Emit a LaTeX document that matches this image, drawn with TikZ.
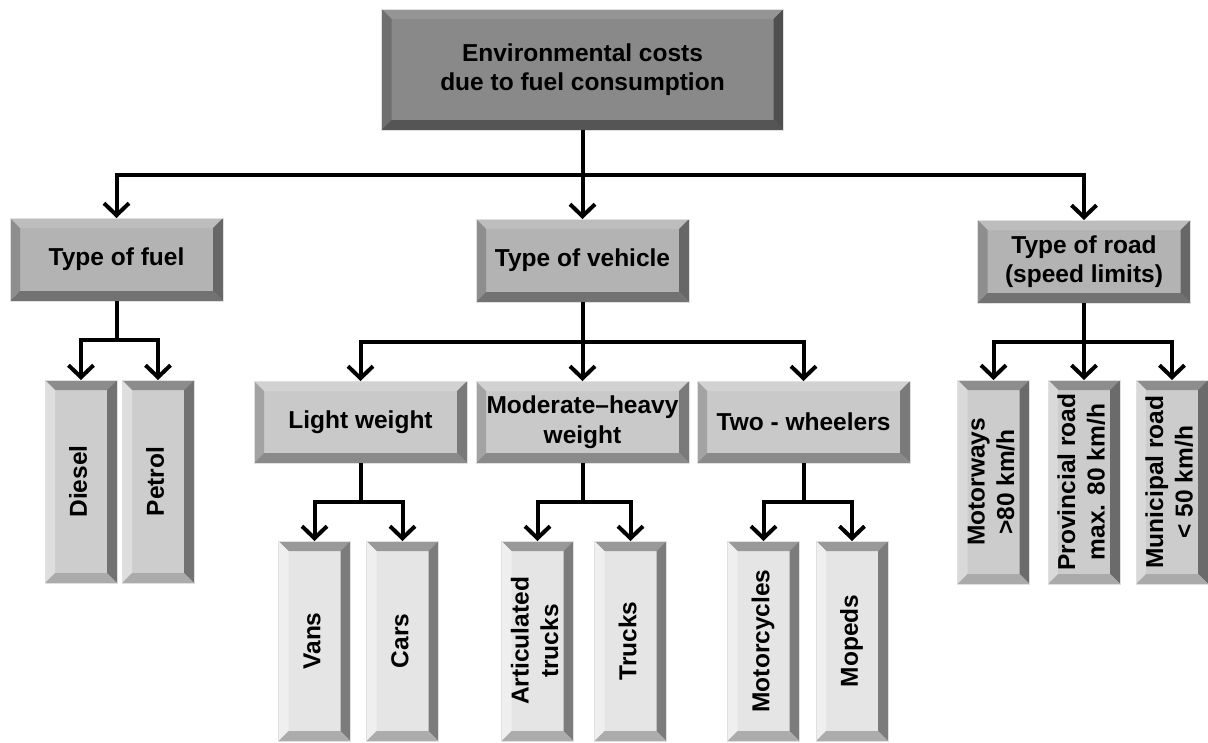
\documentclass[tikz,border=0pt]{standalone}
\usepackage{fontspec}
\setmainfont{Liberation Sans}
\usetikzlibrary{arrows.meta}
\definecolor{tF}{HTML}{898989}\definecolor{tT}{HTML}{959595}\definecolor{tL}{HTML}{6F6F6F}\definecolor{tR}{HTML}{4F4F4F}\definecolor{tB}{HTML}{555555}
\definecolor{aF}{HTML}{B3B3B3}\definecolor{aT}{HTML}{BDBDBD}\definecolor{aL}{HTML}{8E8E8E}\definecolor{aR}{HTML}{676767}\definecolor{aB}{HTML}{727272}
\definecolor{bF}{HTML}{C9C9C9}\definecolor{bT}{HTML}{D2D2D2}\definecolor{bL}{HTML}{A3A3A3}\definecolor{bR}{HTML}{7A7A7A}\definecolor{bB}{HTML}{8A8A8A}
\definecolor{cF}{HTML}{CDCDCD}\definecolor{cT}{HTML}{8C8C8C}\definecolor{cL}{HTML}{DEDEDE}\definecolor{cR}{HTML}{727272}\definecolor{cB}{HTML}{ABABAB}
\definecolor{dF}{HTML}{E5E5E5}\definecolor{dT}{HTML}{999999}\definecolor{dL}{HTML}{EFEFEF}\definecolor{dR}{HTML}{7C7C7C}\definecolor{dB}{HTML}{ACACAC}
\definecolor{eF}{HTML}{CCCCCC}\definecolor{eT}{HTML}{8D8D8D}\definecolor{eL}{HTML}{D9D9D9}\definecolor{eR}{HTML}{6B6B6B}\definecolor{eB}{HTML}{AAAAAA}
\newcommand\vtext[1]{\rotatebox{90}{\begin{tabular}{@{}c@{}}#1\end{tabular}}}
\tikzset{
  bev/.style n args={5}{path picture={
    \fill[#2] (path picture bounding box.north west) -- (path picture bounding box.north east)
      -- ([xshift=-#1pt,yshift=-#1pt]path picture bounding box.north east)
      -- ([xshift=#1pt,yshift=-#1pt]path picture bounding box.north west) -- cycle;
    \fill[#3] (path picture bounding box.north west) -- ([xshift=#1pt,yshift=-#1pt]path picture bounding box.north west)
      -- ([xshift=#1pt,yshift=#1pt]path picture bounding box.south west) -- (path picture bounding box.south west) -- cycle;
    \fill[#4] (path picture bounding box.north east) -- ([xshift=-#1pt,yshift=-#1pt]path picture bounding box.north east)
      -- ([xshift=-#1pt,yshift=#1pt]path picture bounding box.south east) -- (path picture bounding box.south east) -- cycle;
    \fill[#5] (path picture bounding box.south west) -- ([xshift=#1pt,yshift=#1pt]path picture bounding box.south west)
      -- ([xshift=-#1pt,yshift=#1pt]path picture bounding box.south east) -- (path picture bounding box.south east) -- cycle;
  }},
  box/.style={rectangle, inner sep=0pt, outer sep=0pt, draw=black!12, line width=0.8pt, align=center,
    font=\bfseries\fontsize{24.5}{29.5}\selectfont},
  topbox/.style={box, fill=tF, minimum width=402pt, minimum height=121pt, bev={10}{tT}{tL}{tR}{tB}},
  lvla/.style={box, fill=aF, minimum width=213pt, minimum height=83pt, bev={10}{aT}{aL}{aR}{aB}},
  lvlb/.style={box, fill=bF, minimum width=213pt, minimum height=82pt, bev={10}{bT}{bL}{bR}{bB}},
  leafc/.style={box, fill=cF, minimum width=72pt, minimum height=203pt, bev={10}{cT}{cL}{cR}{cB}},
  leafd/.style={box, fill=dF, minimum width=72pt, minimum height=200pt, bev={10}{dT}{dL}{dR}{dB}},
  leafe/.style={box, fill=eF, minimum width=72pt, minimum height=204pt, bev={10}{eT}{eL}{eR}{eB}},
  conn/.style={line width=4pt},
  arr/.style={line width=4pt, -{Straight Barb[length=12pt,width=25pt]}},
}
\begin{document}
\begin{tikzpicture}[x=1pt,y=-1pt]
\useasboundingbox (0,0) rectangle (1208,742);
% nodes
\node[topbox] (top) at (582.5,69.5) {Environmental costs\\due to fuel consumption};
\node[lvla] (fuel) at (116.5,259.5) {Type of fuel};
\node[lvla] (vehicle) at (582.5,260.5) {Type of vehicle};
\node[lvla] (road) at (1084,261.5) {Type of road\\(speed limits)};
\node[lvlb] (light) at (360.5,422) {Light weight};
\node[lvlb] (moderate) at (582.5,422) {Moderate--heavy\\weight};
\node[lvlb] (two) at (803.5,422) {Two - wheelers};
\node[leafc] (diesel) at (81,481.5) {\vtext{Diesel}};
\node[leafc] (petrol) at (158,481.5) {\vtext{Petrol}};
\node[leafd] (vans) at (314.5,641) {\vtext{Vans}};
\node[leafd] (cars) at (402.5,641) {\vtext{Cars}};
\node[leafd] (artic) at (537.5,641) {\vtext{Articulated\\trucks}};
\node[leafd] (trucks) at (630.5,641) {\vtext{Trucks}};
\node[leafd] (motorcycles) at (763.5,641) {\vtext{Motorcycles}};
\node[leafd] (mopeds) at (852,641) {\vtext{Mopeds}};
\node[leafe] (motorways) at (993.5,482) {\vtext{Motorways\\>80 km/h}};
\node[leafe] (provincial) at (1084,482) {\vtext{Provincial road\\max. 80 km/h}};
\node[leafe] (municipal) at (1172,482) {\vtext{Municipal road\\< 50 km/h}};
% junctions
\coordinate (j0) at (582.5,175);
\coordinate (j1) at (116.5,340);
\coordinate (j2) at (582.5,342);
\coordinate (j3) at (1084,342);
\coordinate (j4) at (360.5,502);
\coordinate (j5) at (582.5,502);
\coordinate (j6) at (803.5,502);
% connectors
\draw[arr] (top.south) -- (vehicle.north);
\draw[arr] (j0) -| (fuel.north);
\draw[arr] (j0) -| (road.north);
\draw[conn] (fuel.south) -- (j1);
\draw[arr] (j1) -| (diesel.north);
\draw[arr] (j1) -| (petrol.north);
\draw[arr] (vehicle.south) -- (moderate.north);
\draw[arr] (j2) -| (light.north);
\draw[arr] (j2) -| (two.north);
\draw[arr] (road.south) -- (provincial.north);
\draw[arr] (j3) -| (motorways.north);
\draw[arr] (j3) -| (municipal.north);
\draw[conn] (light.south) -- (j4);
\draw[arr] (j4) -| (vans.north);
\draw[arr] (j4) -| (cars.north);
\draw[conn] (moderate.south) -- (j5);
\draw[arr] (j5) -| (artic.north);
\draw[arr] (j5) -| (trucks.north);
\draw[conn] (two.south) -- (j6);
\draw[arr] (j6) -| (motorcycles.north);
\draw[arr] (j6) -| (mopeds.north);
\end{tikzpicture}
\end{document}
